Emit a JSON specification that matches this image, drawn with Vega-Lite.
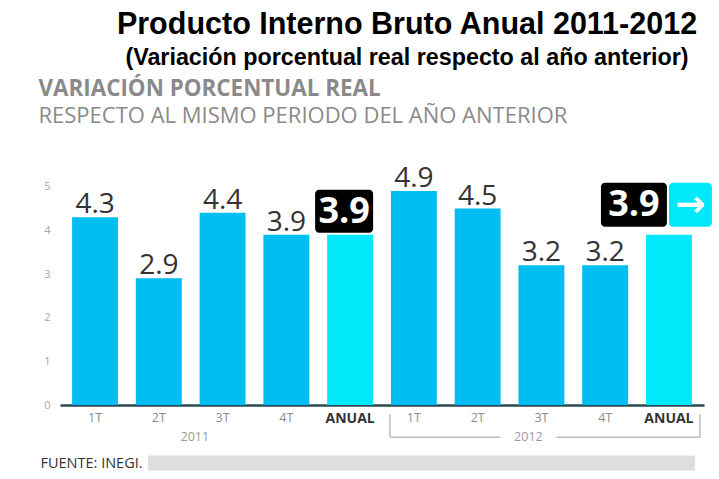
{
  "$schema": "https://vega.github.io/schema/vega-lite/v6.json",
  "autosize": "none",
  "width": 644,
  "height": 262,
  "padding": {"left": 60, "top": 143, "right": 15, "bottom": 74},
  "background": "white",
  "title": {
    "text": "Producto Interno Bruto Anual 2011-2012",
    "subtitle": "(Variación porcentual real respecto al año anterior)",
    "font": "Liberation Sans",
    "fontSize": 30.5,
    "fontWeight": "bold",
    "color": "#000000",
    "subtitleFont": "Liberation Sans",
    "subtitleFontSize": 23.3,
    "subtitleFontWeight": "bold",
    "subtitleColor": "#000000",
    "subtitlePadding": 6,
    "anchor": "middle",
    "dx": 25,
    "offset": 8
  },
  "datasets": {
    "pib": [
      {"cat": "2011-1T", "periodo": "1T", "anio": "2011", "tipo": "trimestre", "value": 4.3},
      {"cat": "2011-2T", "periodo": "2T", "anio": "2011", "tipo": "trimestre", "value": 2.9},
      {"cat": "2011-3T", "periodo": "3T", "anio": "2011", "tipo": "trimestre", "value": 4.4},
      {"cat": "2011-4T", "periodo": "4T", "anio": "2011", "tipo": "trimestre", "value": 3.9},
      {"cat": "2011-ANUAL", "periodo": "ANUAL", "anio": "2011", "tipo": "anual", "value": 3.9},
      {"cat": "2012-1T", "periodo": "1T", "anio": "2012", "tipo": "trimestre", "value": 4.9},
      {"cat": "2012-2T", "periodo": "2T", "anio": "2012", "tipo": "trimestre", "value": 4.5},
      {"cat": "2012-3T", "periodo": "3T", "anio": "2012", "tipo": "trimestre", "value": 3.2},
      {"cat": "2012-4T", "periodo": "4T", "anio": "2012", "tipo": "trimestre", "value": 3.2},
      {"cat": "2012-ANUAL", "periodo": "ANUAL", "anio": "2012", "tipo": "anual", "value": 3.9}
    ],
    "anios": [
      {"anio": "2011", "cat": "2011-2T"},
      {"anio": "2012", "cat": "2012-3T"}
    ],
    "corchete": [
      {"tramo": "izq", "desde": "2012-1T", "hasta": "2012-2T"},
      {"tramo": "der", "desde": "2012-3T", "hasta": "2012-ANUAL"}
    ],
    "franja": [
      {"desde": "2011-2T", "hasta": "2012-ANUAL"}
    ],
    "flecha": [
      {"cat": "2012-ANUAL", "value": 3.9, "simbolo": "→"}
    ]
  },
  "config": {
    "view": {"stroke": null},
    "axis": {"grid": false, "ticks": false}
  },
  "resolve": {"axis": {"y": "independent"}},
  "layer": [
    {
      "data": {"name": "pib"},
      "mark": {"type": "bar"},
      "encoding": {
        "x": {
          "field": "cat",
          "type": "nominal",
          "sort": null,
          "scale": {"paddingInner": 0.28, "paddingOuter": 0.19},
          "axis": {
            "labelExpr": "split(datum.value, '-')[1]",
            "labelAngle": 0,
            "labelFont": "Open Sans",
            "labelFontSize": {"condition": {"test": "indexof(datum.value, 'ANUAL') >= 0", "value": 14}, "value": 12.5},
            "labelFontWeight": {"condition": {"test": "indexof(datum.value, 'ANUAL') >= 0", "value": "bold"}, "value": "normal"},
            "labelColor": {"condition": {"test": "indexof(datum.value, 'ANUAL') >= 0", "value": "#333333"}, "value": "#8c8c8c"},
            "labelPadding": 6,
            "domainColor": "#2b4a55",
            "domainWidth": 2.5,
            "title": "FUENTE: INEGI.",
            "titleFont": "Open Sans",
            "titleFontSize": 14.5,
            "titleFontWeight": "normal",
            "titleColor": "#333333",
            "titleAnchor": "start",
            "titleAlign": "left",
            "titleBaseline": "middle",
            "titleX": -20,
            "titleY": 58
          }
        },
        "y": {
          "field": "value",
          "type": "quantitative",
          "scale": {"domain": [0, 6], "nice": false},
          "axis": {
            "orient": "left",
            "values": [0, 1, 2, 3, 4, 5],
            "domain": false,
            "labelFont": "Open Sans",
            "labelFontSize": 11,
            "labelColor": "#a8a8a8",
            "labelPadding": 10,
            "title": "VARIACIÓN PORCENTUAL REAL",
            "titleFont": "Open Sans",
            "titleFontSize": 22.4,
            "titleFontWeight": "bold",
            "titleColor": "#8a8a8a",
            "titleAngle": 0,
            "titleAlign": "left",
            "titleBaseline": "middle",
            "titleX": -22,
            "titleY": -55
          }
        },
        "color": {
          "field": "tipo",
          "type": "nominal",
          "scale": {"domain": ["trimestre", "anual"], "range": ["#00bdf2", "#00e8fa"]},
          "legend": null
        }
      }
    },
    {
      "data": {"name": "pib"},
      "transform": [{"filter": "datum.tipo == 'trimestre'"}],
      "mark": {"type": "text", "baseline": "alphabetic", "dy": -4, "font": "Open Sans", "fontSize": 28, "color": "#333333"},
      "encoding": {
        "x": {"field": "cat", "type": "nominal", "sort": null},
        "y": {
          "field": "value",
          "type": "quantitative",
          "axis": {
            "orient": "right",
            "labels": false,
            "domain": false,
            "title": "RESPECTO AL MISMO PERIODO DEL AÑO ANTERIOR",
            "titleFont": "Open Sans",
            "titleFontSize": 22,
            "titleFontWeight": "normal",
            "titleColor": "#8a8a8a",
            "titleAngle": 0,
            "titleAlign": "left",
            "titleBaseline": "middle",
            "titleX": -666,
            "titleY": -28
          }
        },
        "text": {"field": "value", "type": "quantitative", "format": ".1f"}
      }
    },
    {
      "data": {"name": "pib"},
      "transform": [{"filter": "datum.cat == '2011-ANUAL'"}],
      "mark": {"type": "bar", "width": 58, "xOffset": -6, "yOffset": -2, "y2Offset": -45, "cornerRadius": 4, "color": "#000000"},
      "encoding": {
        "x": {"field": "cat", "type": "nominal", "sort": null},
        "y": {"field": "value", "type": "quantitative", "axis": null},
        "y2": {"field": "value"}
      }
    },
    {
      "data": {"name": "pib"},
      "transform": [{"filter": "datum.cat == '2011-ANUAL'"}],
      "mark": {"type": "text", "xOffset": -6, "dy": -23, "baseline": "middle", "font": "Open Sans", "fontSize": 36, "fontWeight": "bold", "color": "#ffffff"},
      "encoding": {
        "x": {"field": "cat", "type": "nominal", "sort": null},
        "y": {"field": "value", "type": "quantitative", "axis": null},
        "text": {"field": "value", "type": "quantitative", "format": ".1f"}
      }
    },
    {
      "data": {"name": "pib"},
      "transform": [{"filter": "datum.cat == '2012-ANUAL'"}],
      "mark": {"type": "bar", "width": 66, "xOffset": -35, "yOffset": -8, "y2Offset": -52, "cornerRadius": 4, "color": "#000000"},
      "encoding": {
        "x": {"field": "cat", "type": "nominal", "sort": null},
        "y": {"field": "value", "type": "quantitative", "axis": null},
        "y2": {"field": "value"}
      }
    },
    {
      "data": {"name": "pib"},
      "transform": [{"filter": "datum.cat == '2012-ANUAL'"}],
      "mark": {"type": "text", "xOffset": -35, "dy": -30, "baseline": "middle", "font": "Open Sans", "fontSize": 36, "fontWeight": "bold", "color": "#ffffff"},
      "encoding": {
        "x": {"field": "cat", "type": "nominal", "sort": null},
        "y": {"field": "value", "type": "quantitative", "axis": null},
        "text": {"field": "value", "type": "quantitative", "format": ".1f"}
      }
    },
    {
      "data": {"name": "flecha"},
      "mark": {"type": "bar", "width": 43, "xOffset": 21.5, "yOffset": -8, "y2Offset": -52, "cornerRadius": 4, "color": "#00e8fa"},
      "encoding": {
        "x": {"field": "cat", "type": "nominal", "sort": null},
        "y": {"field": "value", "type": "quantitative", "axis": null},
        "y2": {"field": "value"}
      }
    },
    {
      "data": {"name": "flecha"},
      "mark": {"type": "text", "xOffset": 21.5, "dy": -30, "baseline": "middle", "font": "DejaVu Sans", "fontSize": 36, "fontWeight": "bold", "color": "#ffffff"},
      "encoding": {
        "x": {"field": "cat", "type": "nominal", "sort": null},
        "y": {"field": "value", "type": "quantitative", "axis": null},
        "text": {"field": "simbolo"}
      }
    },
    {
      "data": {"name": "anios"},
      "transform": [{"filter": "datum.anio == '2011'"}],
      "mark": {"type": "text", "baseline": "middle", "xOffset": 36, "font": "Open Sans", "fontSize": 12.5, "color": "#9a9a9a"},
      "encoding": {
        "x": {"field": "cat", "type": "nominal", "sort": null},
        "y": {"datum": -0.74, "type": "quantitative", "axis": null},
        "text": {"field": "anio"}
      }
    },
    {
      "data": {"name": "anios"},
      "transform": [{"filter": "datum.anio == '2012'"}],
      "mark": {"type": "text", "baseline": "middle", "xOffset": -13, "font": "Open Sans", "fontSize": 12.5, "color": "#9a9a9a"},
      "encoding": {
        "x": {"field": "cat", "type": "nominal", "sort": null},
        "y": {"datum": -0.74, "type": "quantitative", "axis": null},
        "text": {"field": "anio"}
      }
    },
    {
      "data": {"name": "corchete"},
      "transform": [{"filter": "datum.tramo == 'izq'"}],
      "mark": {"type": "rule", "color": "#bdbdbd", "strokeWidth": 1.5, "xOffset": -1},
      "encoding": {
        "x": {"field": "desde", "type": "nominal", "sort": null, "bandPosition": 0},
        "x2": {"field": "hasta", "bandPosition": 1},
        "y": {"datum": -0.74, "type": "quantitative", "axis": null}
      }
    },
    {
      "data": {"name": "corchete"},
      "transform": [{"filter": "datum.tramo == 'der'"}],
      "mark": {"type": "rule", "color": "#bdbdbd", "strokeWidth": 1.5, "x2Offset": 8},
      "encoding": {
        "x": {"field": "desde", "type": "nominal", "sort": null, "bandPosition": 0.83},
        "x2": {"field": "hasta", "bandPosition": 1},
        "y": {"datum": -0.74, "type": "quantitative", "axis": null}
      }
    },
    {
      "data": {"name": "corchete"},
      "transform": [{"filter": "datum.tramo == 'izq'"}],
      "mark": {"type": "rule", "color": "#bdbdbd", "strokeWidth": 1.5, "xOffset": -1},
      "encoding": {
        "x": {"field": "desde", "type": "nominal", "sort": null, "bandPosition": 0},
        "y": {"datum": -0.22, "type": "quantitative", "axis": null},
        "y2": {"datum": -0.74}
      }
    },
    {
      "data": {"name": "corchete"},
      "transform": [{"filter": "datum.tramo == 'der'"}],
      "mark": {"type": "rule", "color": "#bdbdbd", "strokeWidth": 1.5, "xOffset": 8},
      "encoding": {
        "x": {"field": "hasta", "type": "nominal", "sort": null, "bandPosition": 1},
        "y": {"datum": -0.22, "type": "quantitative", "axis": null},
        "y2": {"datum": -0.74}
      }
    },
    {
      "data": {"name": "franja"},
      "mark": {"type": "rule", "color": "#dedede", "strokeWidth": 15, "xOffset": 12, "x2Offset": 3},
      "encoding": {
        "x": {"field": "desde", "type": "nominal", "sort": null, "bandPosition": 0},
        "x2": {"field": "hasta", "bandPosition": 1},
        "y": {"datum": -1.33, "type": "quantitative", "axis": null}
      }
    }
  ]
}
